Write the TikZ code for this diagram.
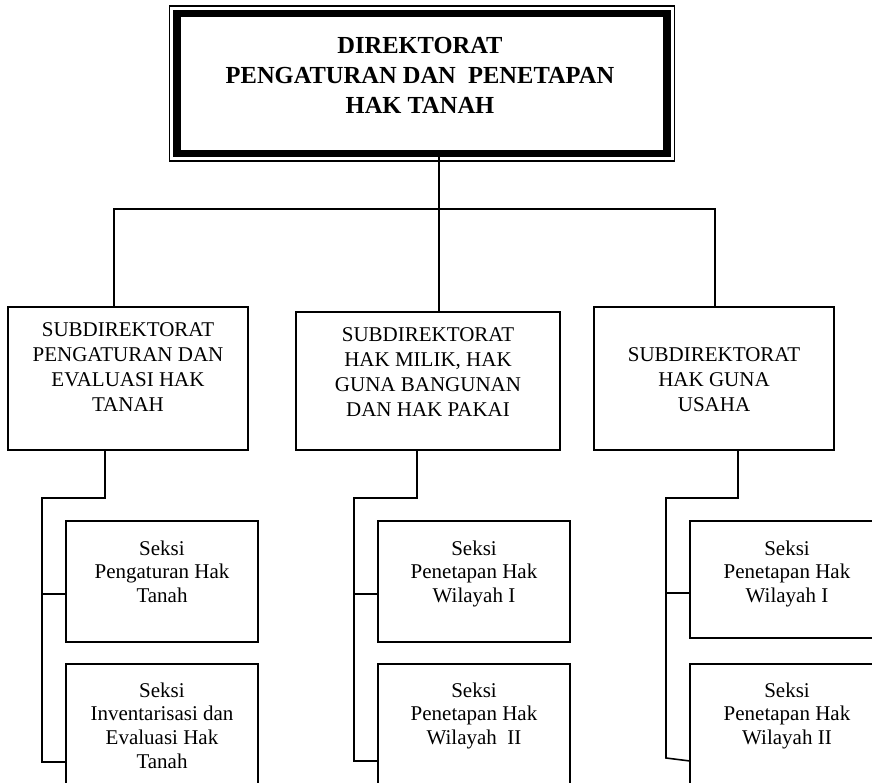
\documentclass[tikz,border=0pt]{standalone}
\usepackage{fontspec}
\setmainfont{Liberation Serif}
\begin{document}
\begin{tikzpicture}[x=1pt,y=-1pt,
  box/.style={draw, rectangle, line width=1.6pt, inner sep=0pt},
  conn/.style={line width=1.6pt},
  sublbl/.style={font=\fontsize{21}{25}\selectfont, align=center, inner sep=0pt},
  seklbl/.style={font=\fontsize{21}{23.6}\selectfont, align=center, inner sep=0pt},
  toplbl/.style={font=\bfseries\fontsize{24.5}{30}\selectfont, align=center, inner sep=0pt}]
\clip (0,0) rectangle (872,783);
\fill[white] (0,0) rectangle (872,783);
% top box
\node[draw, rectangle, line width=7.5pt, inner sep=0pt, outer sep=0pt, minimum width=490pt, minimum height=140pt] (top) at (422,83.6) {};
\draw[line width=1.6pt] ([shift={(-7.6,-7.6)}]top.north west) rectangle ([shift={(7.6,7.2)}]top.south east);
\node[toplbl] (toptxt) at (420,75) {DIREKTORAT\\PENGATURAN DAN\ \ PENETAPAN\\HAK TANAH};
% subdirektorat boxes
\node[box, minimum width=240pt, minimum height=143pt] (sL) at (128,378.5) {};
\node[box, minimum width=264pt, minimum height=138pt] (sM) at (428,381) {};
\node[box, minimum width=240pt, minimum height=143pt] (sR) at (714,378.5) {};
\node[sublbl] (tL) at (128,367.5) {SUBDIREKTORAT\\PENGATURAN DAN\\EVALUASI HAK\\TANAH};
\node[sublbl] (tM) at (428,372.5) {SUBDIREKTORAT\\HAK MILIK, HAK\\GUNA BANGUNAN\\DAN HAK PAKAI};
\node[sublbl] (tR) at (714,379.5) {SUBDIREKTORAT\\HAK GUNA\\USAHA};
% seksi boxes
\node[box, minimum width=192pt, minimum height=121pt] (kL1) at (162,581.5) {};
\node[box, minimum width=192pt, minimum height=130pt] (kL2) at (162,729) {};
\node[box, minimum width=192pt, minimum height=121pt] (kM1) at (474,581.5) {};
\node[box, minimum width=192pt, minimum height=130pt] (kM2) at (474,729) {};
\node[box, minimum width=192pt, minimum height=117pt] (kR1) at (786,579.5) {};
\node[box, minimum width=192pt, minimum height=130pt] (kR2) at (786,729) {};
\node[seklbl] (tL1) at (162,571.5) {Seksi\\Pengaturan Hak\\Tanah};
\node[seklbl] (tL2) at (162,725.5) {Seksi\\Inventarisasi dan\\Evaluasi Hak\\Tanah};
\node[seklbl] (tM1) at (474,573.8) {Seksi\\Penetapan Hak\\Wilayah I};
\node[seklbl] (tM2) at (474,715.8) {Seksi\\Penetapan Hak\\Wilayah\ \ II};
\node[seklbl] (tR1) at (787,573.8) {Seksi\\Penetapan Hak\\Wilayah I};
\node[seklbl] (tR2) at (787,715.8) {Seksi\\Penetapan Hak\\Wilayah II};
% coordinates
\coordinate (xT) at (439,0);
\coordinate (xL) at (114,0);
\coordinate (xR) at (715,0);
\coordinate (bus) at (0,209);
\coordinate (aL) at (105,498);
\coordinate (mL) at (42,594);
\coordinate (bL) at (42,762);
\coordinate (aM) at (417,498);
\coordinate (mM) at (354,594);
\coordinate (bM) at (354,761);
\coordinate (aR) at (738,498);
\coordinate (mR) at (666,593);
\coordinate (bR) at (666,758);
\coordinate (eR) at (690,761);
% connectors top level
\draw[conn] (top.south -| xT) -- (sM.north -| xT);
\draw[conn] (sL.north -| xL) -- (bus -| xL) -- (bus -| xR) -- (sR.north -| xR);
% left branch
\draw[conn] (sL.south -| aL) -- (aL) -- (aL -| bL) -- (bL) -- (bL -| kL2.west);
\draw[conn] (mL) -- (mL -| kL1.west);
% middle branch
\draw[conn] (sM.south -| aM) -- (aM) -- (aM -| bM) -- (bM) -- (bM -| kM2.west);
\draw[conn] (mM) -- (mM -| kM1.west);
% right branch
\draw[conn] (sR.south -| aR) -- (aR) -- (aR -| bR) -- (bR) -- (eR);
\draw[conn] (mR) -- (mR -| kR1.west);
\end{tikzpicture}
\end{document}
